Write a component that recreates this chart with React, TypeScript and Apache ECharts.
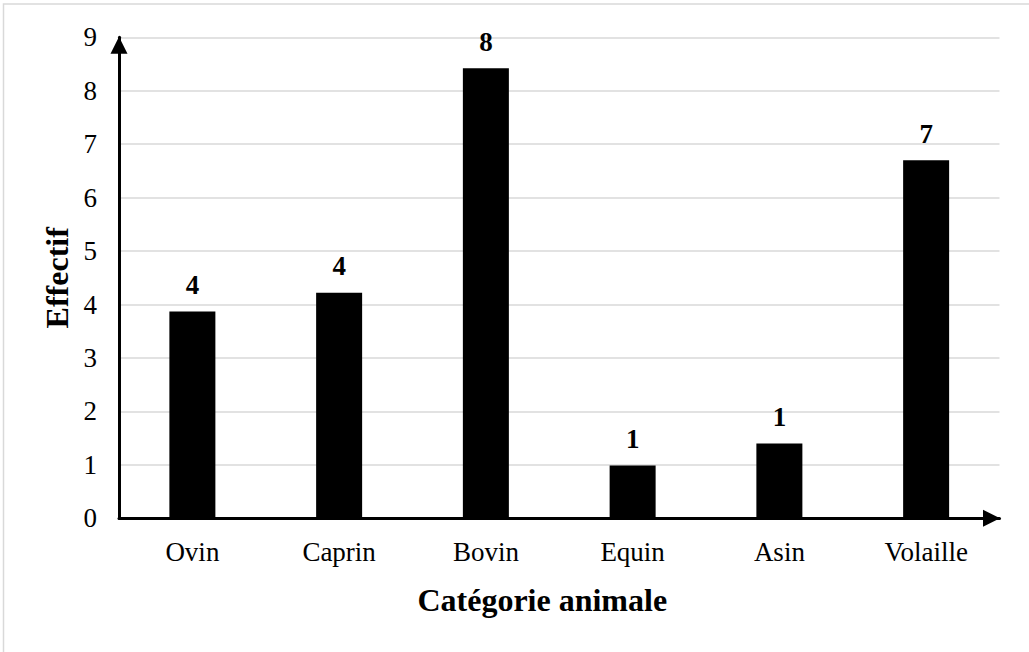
import React, { useEffect, useRef } from "react";
import * as echarts from "echarts";

// Nombre d'animaux par catégorie
const categories: string[] = ["Ovin", "Caprin", "Bovin", "Equin", "Asin", "Volaille"];
const effectifs: number[] = [3.87, 4.22, 8.42, 0.99, 1.4, 6.7];

const yMin = 0;
const yMax = 9;
const yStep = 1;

const SERIF = "'Liberation Serif', 'Times New Roman', serif";

export default function App() {
  const ref = useRef<HTMLDivElement>(null);

  useEffect(() => {
    if (!ref.current) return;
    const chart = echarts.init(ref.current, undefined, { renderer: "svg" });

    chart.setOption({
      animation: false,
      backgroundColor: "#ffffff",
      graphic: [
        {
          type: "polyline",
          shape: { points: [[3.5, 652], [3.5, 4], [1029, 4]] },
          style: { stroke: "#d9d9d9", lineWidth: 1.5, fill: "none" },
          silent: true,
        },
      ],
      grid: { left: 119, right: 29.5, top: 37.3, bottom: 133.7, containLabel: false },
      xAxis: {
        type: "category",
        data: categories,
        name: "Catégorie animale",
        nameLocation: "middle",
        nameGap: 66,
        nameTextStyle: {
          fontFamily: SERIF,
          fontSize: 32,
          fontWeight: "bold",
          color: "#000",
          padding: [0, 34, 0, 0],
        },
        axisLine: {
          show: true,
          symbol: ["none", "triangle"],
          symbolSize: [17, 17],
          symbolOffset: [0, -8],
          lineStyle: { color: "#000", width: 3 },
        },
        axisTick: { show: false },
        axisLabel: { fontFamily: SERIF, fontSize: 27, color: "#000", margin: 20 },
      },
      yAxis: {
        type: "value",
        min: yMin,
        max: yMax,
        interval: yStep,
        name: "Effectif",
        nameLocation: "middle",
        nameRotate: 90,
        nameGap: 44,
        nameTextStyle: { fontFamily: SERIF, fontSize: 32, fontWeight: "bold", color: "#000" },
        axisLine: {
          show: true,
          symbol: ["none", "triangle"],
          symbolSize: [17, 17],
          symbolOffset: [0, -8],
          lineStyle: { color: "#000", width: 3 },
        },
        axisTick: { show: false },
        axisLabel: { fontFamily: SERIF, fontSize: 27, color: "#000", margin: 22 },
        splitLine: { show: true, lineStyle: { color: "#d9d9d9", width: 1.5 } },
      },
      series: [
        {
          type: "bar",
          data: effectifs,
          barWidth: 46,
          itemStyle: { color: "#000" },
          label: {
            show: true,
            position: "top",
            distance: 13,
            fontFamily: SERIF,
            fontSize: 27,
            fontWeight: "bold",
            color: "#000",
            formatter: (p: any) => String(Math.round(p.value)),
          },
        },
      ],
    });

    return () => chart.dispose();
  }, []);

  return (
    <div
      ref={ref}
      style={{ position: "fixed", left: 0, top: 0, width: 1029, height: 652 }}
    />
  );
}
